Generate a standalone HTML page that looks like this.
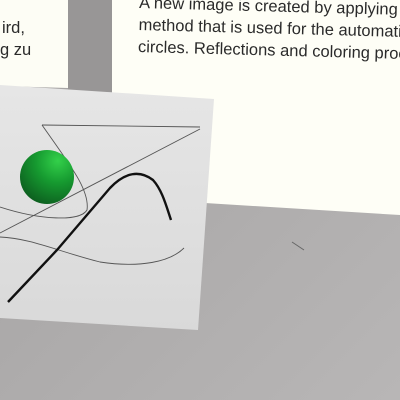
<!DOCTYPE html>
<html><head><style>
html,body{margin:0;padding:0;width:400px;height:400px;overflow:hidden;background:#9e9c9c}
svg{display:block}
text{font-family:"Liberation Sans",sans-serif;font-size:16.5px;fill:#2a2a2a}
</style></head><body>
<svg width="400" height="400" viewBox="0 0 400 400">
<defs>
<linearGradient id="floor" x1="0" y1="0" x2="1" y2="1">
<stop offset="0" stop-color="#a3a1a1"/><stop offset="1" stop-color="#b8b6b6"/></linearGradient>
<radialGradient id="ball" cx="0.7" cy="0.2" r="0.9">
<stop offset="0" stop-color="#33d04a"/><stop offset="0.45" stop-color="#169a30"/><stop offset="1" stop-color="#0c5a1e"/></radialGradient>
<linearGradient id="card" x1="0" y1="0" x2="0" y2="1">
<stop offset="0" stop-color="#e6e6e6"/><stop offset="1" stop-color="#d9d9d9"/></linearGradient>
</defs>
<rect width="400" height="400" fill="url(#floor)"/>
<rect x="68" y="0" width="44" height="92" fill="#989696"/>
<polygon points="0,0 68,0 68,88 0,86" fill="#fdfdf5"/>
<polygon points="112,0 400,0 400,215 205,203 112,96" fill="#fefef6"/>
<g>
<text x="2" y="33">ird,</text>
<text x="0" y="55">g zu</text>
</g>
<g transform="rotate(1.5 139 10)">
<text x="139" y="8">A new image is created by applying</text>
<text x="139" y="30">method that is used for the automati</text>
<text x="139" y="52">circles. Reflections and coloring proc</text>
</g>
<polygon points="0,85 214,99 198,330 0,318" fill="url(#card)"/>
<g fill="none" stroke="#555" stroke-width="0.9">
<path d="M42,125 L200,127"/>
<path d="M200,129 L0,233"/>
<path d="M42,125 C70,165 90,190 87,210 C80,222 40,220 0,207"/>
<path d="M0,237 C30,238 60,252 100,262 C140,268 170,262 184,248"/>
</g>
<path d="M8,302 L57,250 L110,188 C125,172 140,170 153,180 C162,190 166,205 171,220" fill="none" stroke="#111" stroke-width="2.4"/>
<circle cx="47" cy="177" r="27" fill="url(#ball)"/>
<line x1="292" y1="242" x2="304" y2="250" stroke="#666" stroke-width="1"/>
</svg>
</body></html>
